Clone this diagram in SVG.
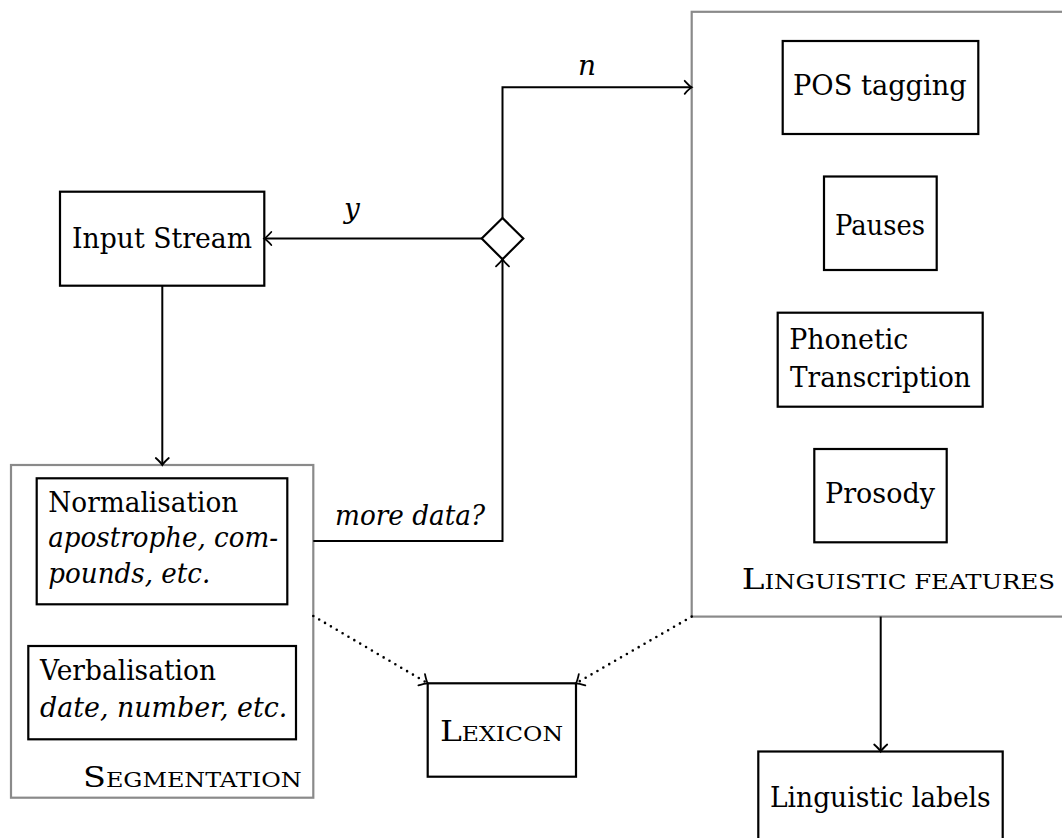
<svg xmlns="http://www.w3.org/2000/svg" width="1062" height="838" viewBox="0 0 1062 838">
<style>
text{font-family:"DejaVu Serif","Liberation Serif",serif;font-size:28px;fill:#000}
.it{font-style:italic}
.box{fill:#fff;stroke:#000;stroke-width:2.2}
.grp{fill:#fff;stroke:#8a8a8a;stroke-width:2.2}
.ln{fill:none;stroke:#000;stroke-width:2}
.dot{fill:none;stroke:#000;stroke-width:2.6;stroke-dasharray:0 6.8;stroke-linecap:round}
.sc{font-size:20px}
</style>
<defs>
<marker id="to" markerUnits="userSpaceOnUse" markerWidth="20" markerHeight="20" viewBox="-10 -10 20 20" refX="0" refY="0" orient="auto">
<path d="M-7,-6.5 Q-2.5,-1.5 0,0 Q-2.5,1.5 -7,6.5" fill="none" stroke="#000" stroke-width="1.8" stroke-linecap="round"/>
</marker>
</defs>
<rect width="1062" height="838" fill="#fff"/>

<g id="segmentation">
<rect class="grp" x="11" y="465" width="302.3" height="332.7"/>
<text x="83" y="786.7" textLength="218.7" lengthAdjust="spacingAndGlyphs"><tspan>S</tspan><tspan class="sc">EGMENTATION</tspan></text>
</g>
<g id="normalisation">
<rect class="box" x="36.7" y="478.3" width="250.6" height="126"/>
<text x="48.3" y="511.7" textLength="190" lengthAdjust="spacingAndGlyphs">Normalisation</text>
<text class="it" x="48.3" y="546.7" textLength="229.7" lengthAdjust="spacingAndGlyphs">apostrophe, com-</text>
<text class="it" x="48.3" y="583.3" textLength="162" lengthAdjust="spacingAndGlyphs">pounds, etc.</text>
</g>
<g id="verbalisation">
<rect class="box" x="28.3" y="646" width="267.7" height="93.3"/>
<text x="40" y="680" textLength="176" lengthAdjust="spacingAndGlyphs">Verbalisation</text>
<text class="it" x="40" y="716.7" textLength="247.3" lengthAdjust="spacingAndGlyphs">date, number, etc.</text>
</g>

<g id="linguistic-features">
<rect class="grp" x="691.7" y="11.8" width="380" height="604.8"/>
<text x="741.7" y="589.3" textLength="313.3" lengthAdjust="spacingAndGlyphs"><tspan>L</tspan><tspan class="sc">INGUISTIC FEATURES</tspan></text>
</g>
<g id="pos">
<rect class="box" x="782.7" y="41" width="195.6" height="93"/>
<text x="793" y="95" textLength="173.7" lengthAdjust="spacingAndGlyphs">POS tagging</text>
</g>
<g id="pauses">
<rect class="box" x="824" y="176.5" width="112.7" height="93.5"/>
<text x="835" y="235" textLength="90" lengthAdjust="spacingAndGlyphs">Pauses</text>
</g>
<g id="phonetic">
<rect class="box" x="777.7" y="312.7" width="205" height="94"/>
<text x="789.3" y="349.3" textLength="119" lengthAdjust="spacingAndGlyphs">Phonetic</text>
<text x="790" y="386.7" textLength="180.7" lengthAdjust="spacingAndGlyphs">Transcription</text>
</g>
<g id="prosody">
<rect class="box" x="814.3" y="449" width="132.4" height="93.3"/>
<text x="825" y="503.3" textLength="110" lengthAdjust="spacingAndGlyphs">Prosody</text>
</g>

<g id="input-stream">
<rect class="box" x="60" y="191.7" width="204.3" height="94"/>
<text x="72" y="247.7" textLength="180" lengthAdjust="spacingAndGlyphs">Input Stream</text>
</g>
<g id="decision">
<path class="box" d="M502.5,218 L523.3,238.5 L502.5,259.3 L481.7,238.5 Z"/>
</g>
<g id="lexicon">
<rect class="box" x="427.7" y="683.3" width="148.3" height="93.4"/>
<text x="440" y="740.7" textLength="123" lengthAdjust="spacingAndGlyphs"><tspan>L</tspan><tspan class="sc">EXICON</tspan></text>
</g>
<g id="linguistic-labels">
<rect class="box" x="758.3" y="751.5" width="244.4" height="100"/>
<text x="770" y="806.7" textLength="220.7" lengthAdjust="spacingAndGlyphs">Linguistic labels</text>
</g>

<g id="connectors">
<path class="ln" d="M481.7,238.5 H264.3" marker-end="url(#to)"/>
<path class="ln" d="M502.5,218 V87.3 H691.7" marker-end="url(#to)"/>
<path class="ln" d="M162.3,285.7 V465" marker-end="url(#to)"/>
<path class="ln" d="M313.3,541 H502.5 V259.3" marker-end="url(#to)"/>
<path class="dot" d="M313.3,616 L427.7,683.3" marker-end="url(#to)"/>
<path class="dot" d="M691.7,616.6 L576,683.3" marker-end="url(#to)"/>
<path class="ln" d="M880.7,616.6 V751.5" marker-end="url(#to)"/>
<text class="it" x="344" y="218.3">y</text>
<text class="it" x="578" y="75">n</text>
<text class="it" x="335" y="525" textLength="150" lengthAdjust="spacingAndGlyphs">more data?</text>
</g>
</svg>
